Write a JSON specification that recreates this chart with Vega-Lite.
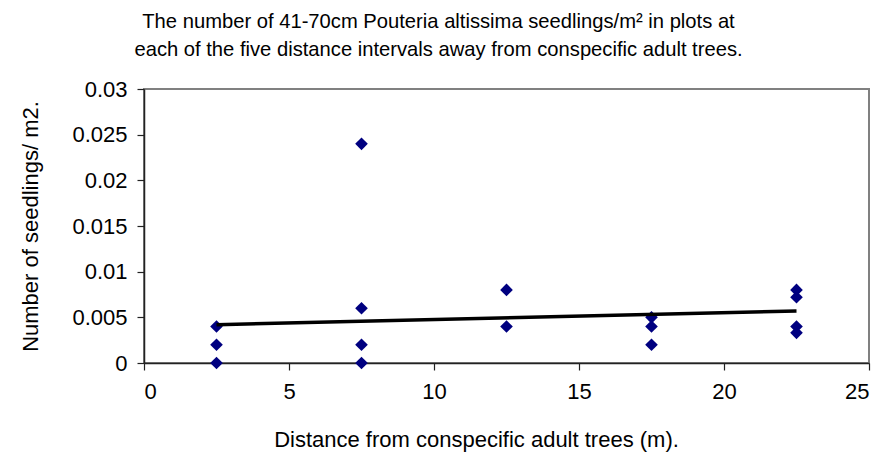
{
  "$schema": "https://vega.github.io/schema/vega-lite/v6.json",
  "width": 725,
  "height": 274,
  "autosize": {"type": "none"},
  "padding": {"left": 144, "top": 89, "right": 10, "bottom": 98},
  "background": "white",
  "title": {
    "text": ["The number of 41-70cm Pouteria altissima seedlings/m² in plots at", "each of the five distance intervals away from conspecific adult trees."],
    "anchor": "middle",
    "frame": "group",
    "dx": -68,
    "offset": 18,
    "font": "Liberation Sans",
    "fontSize": 20.2,
    "fontWeight": "normal",
    "lineHeight": 28,
    "color": "#000000"
  },
  "datasets": {
    "points": [
      {"distance": 2.5, "seedlings": 0.004},
      {"distance": 2.5, "seedlings": 0.002},
      {"distance": 2.5, "seedlings": 0},
      {"distance": 7.5, "seedlings": 0.024},
      {"distance": 7.5, "seedlings": 0.006},
      {"distance": 7.5, "seedlings": 0.002},
      {"distance": 7.5, "seedlings": 0},
      {"distance": 12.5, "seedlings": 0.008},
      {"distance": 12.5, "seedlings": 0.004},
      {"distance": 17.5, "seedlings": 0.005},
      {"distance": 17.5, "seedlings": 0.004},
      {"distance": 17.5, "seedlings": 0.002},
      {"distance": 22.5, "seedlings": 0.008},
      {"distance": 22.5, "seedlings": 0.0072},
      {"distance": 22.5, "seedlings": 0.004},
      {"distance": 22.5, "seedlings": 0.0033}
    ],
    "trend": [
      {"distance": 2.5, "seedlings": 0.0042},
      {"distance": 22.5, "seedlings": 0.0057}
    ]
  },
  "layer": [
    {
      "data": {"name": "points"},
      "mark": {"type": "point", "shape": "diamond", "filled": true, "size": 160, "color": "#000080", "opacity": 1},
      "encoding": {
        "x": {
          "field": "distance", "type": "quantitative",
          "scale": {"domain": [0, 25], "nice": false, "zero": false},
          "axis": {
            "title": "Distance from conspecific adult trees (m).",
            "values": [0, 5, 10, 15, 20, 25],
            "grid": false,
            "domainColor": "#222222", "domainWidth": 1.5,
            "tickColor": "#222222", "tickSize": 7, "tickWidth": 1.2,
            "labelFont": "Liberation Sans", "labelFontSize": 22, "labelColor": "#000000",
            "labelPadding": 11,
            "titleFont": "Liberation Sans", "titleFontSize": 22, "titleFontWeight": "normal", "titleColor": "#000000",
            "titleX": 332, "titleY": 76, "titleBaseline": "middle", "titleAlign": "center"
          }
        },
        "y": {
          "field": "seedlings", "type": "quantitative",
          "scale": {"domain": [0, 0.03], "nice": false, "zero": false},
          "axis": {
            "title": "Number of seedlings/ m2.",
            "values": [0, 0.005, 0.01, 0.015, 0.02, 0.025, 0.03],
            "format": ".3~f",
            "grid": false,
            "domainColor": "#222222", "domainWidth": 1.5,
            "tickColor": "#222222", "tickSize": 7, "tickWidth": 1.2,
            "labelFont": "Liberation Sans", "labelFontSize": 22, "labelColor": "#000000",
            "labelPadding": 10,
            "titleFont": "Liberation Sans", "titleFontSize": 22, "titleFontWeight": "normal", "titleColor": "#000000",
            "titleX": -114, "titleY": 137, "titleAngle": 270, "titleBaseline": "middle", "titleAlign": "center"
          }
        }
      }
    },
    {
      "data": {"name": "trend"},
      "mark": {"type": "line", "color": "#000000", "strokeWidth": 3.5},
      "encoding": {
        "x": {"field": "distance", "type": "quantitative"},
        "y": {"field": "seedlings", "type": "quantitative"}
      }
    }
  ],
  "config": {
    "view": {"stroke": "#808080", "strokeWidth": 2}
  }
}
